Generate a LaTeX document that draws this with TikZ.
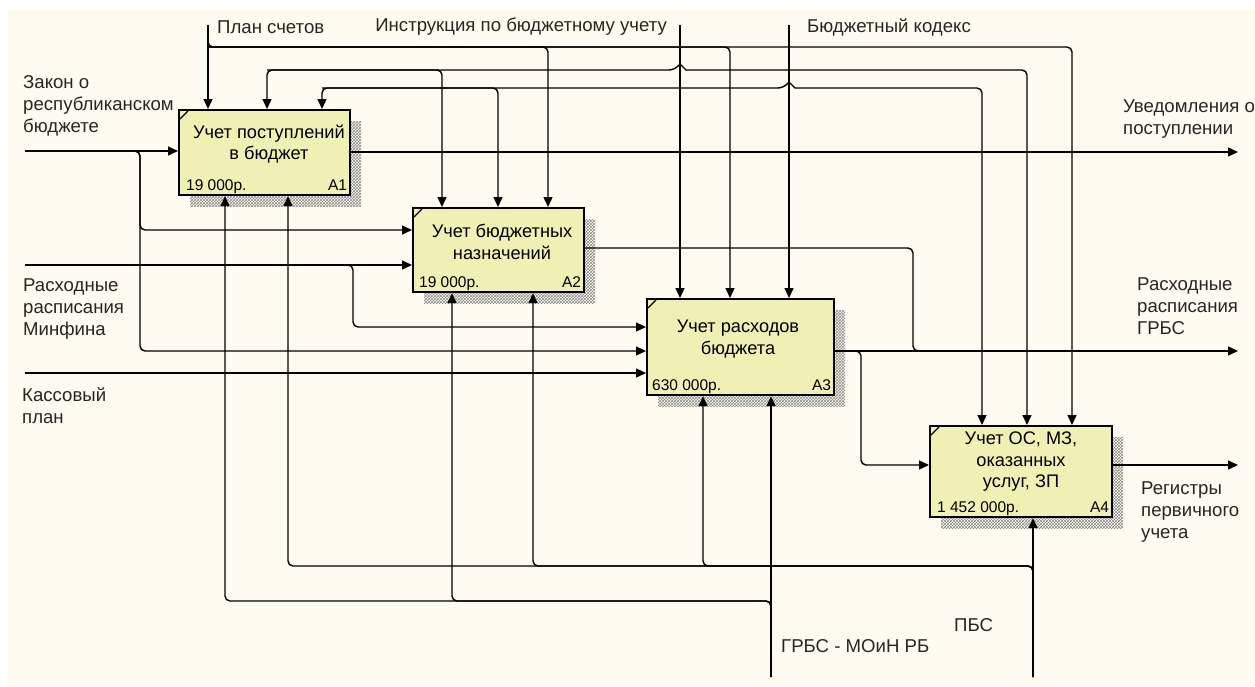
\documentclass[tikz,border=0pt]{standalone}
\usepackage{fontspec}
\setmainfont{Liberation Sans}
\usetikzlibrary{arrows.meta,calc,patterns}
\definecolor{bgcream}{RGB}{255,251,240}
\definecolor{boxfill}{RGB}{240,240,180}
\definecolor{shade}{RGB}{140,140,140}
\tikzset{
  func/.style ={rectangle, draw=black, line width=2.2pt, fill=boxfill, inner sep=0pt, anchor=north west},
  shadow/.style={pattern=crosshatch, pattern color=shade},
  ttl/.style  ={align=center, inner sep=0pt, font=\fontsize{18.2}{21.5}\selectfont},
  cost/.style ={inner sep=0pt, font=\fontsize{15.5}{17}\selectfont},
  lbl/.style  ={align=left, anchor=west, inner sep=0pt, text=black!85,
                font=\fontsize{18.6}{21.8}\selectfont},
  ln/.style   ={line width=1.4pt, rounded corners=5pt},
  ar/.style   ={ln, -{Triangle[length=10pt,width=9pt]}},
  ar2/.style  ={ln, {Triangle[length=10pt,width=9pt]}-{Triangle[length=10pt,width=9pt]}}
}

\begin{document}
\begin{tikzpicture}[x=1pt,y=-1pt]
\useasboundingbox (0,0) rectangle (1255,686);
\fill[bgcream] (8,9) rectangle (1255,686);

% function boxes with shadows
\foreach \n/\x/\y/\w/\h in {a1/178/109/171/85, a2/412/207/171/84,
                            a3/646/298/187/96, a4/929/425/182/91}{
  \fill[shadow] (\x+12,\y+12) rectangle ++(\w,\h);
  \node[func, minimum width=\w pt, minimum height=\h pt] (\n) at (\x,\y) {};
  \draw[line width=1.2pt] ($(\n.north west)+(2,10)$) -- ($(\n.north west)+(10,2)$);
}
\node[ttl] (a1t) at (269,144) {Учет поступлений\\в бюджет};
\node[ttl] (a2t) at (502,242) {Учет бюджетных\\назначений};
\node[ttl] (a3t) at (738,339) {Учет расходов\\бюджета};
\node[ttl] (a4t) at (1021,462) {Учет ОС, МЗ,\\оказанных\\услуг, ЗП};
\node[cost, anchor=base west] (a1c) at ($(a1.south west)+(8,-6)$) {19 000р.};
\node[cost, anchor=base west] (a2c) at ($(a2.south west)+(7,-6)$) {19 000р.};
\node[cost, anchor=base west] (a3c) at ($(a3.south west)+(6,-6)$) {630 000р.};
\node[cost, anchor=base west] (a4c) at ($(a4.south west)+(8,-6)$) {1 452 000р.};
\foreach \n/\t in {a1/A1, a2/A2, a3/A3, a4/A4}{
  \node[cost, anchor=base east] (\n id) at ($(\n.south east)+(-4,-6)$) {\t};
}

% free ends
\coordinate (c1) at (208,25);
\coordinate (c2) at (680,25);
\coordinate (c3) at (789,25);
\coordinate (i1) at (25,151);
\coordinate (i2) at (25,265);
\coordinate (i3) at (25,373);
\coordinate (o1) at (1238,152);
\coordinate (o2) at (1238,351);
\coordinate (o3) at (1238,465);
\coordinate (m1) at (771,677);
\coordinate (m2) at (1033,677);
% bus points
\coordinate (bus1) at (208,47);
\coordinate (bus2) at (267,70);
\coordinate (bus3) at (322,88);
\coordinate (j1) at (140,151);
\coordinate (j2) at (353,265);
\coordinate (j3) at (913,351);
\coordinate (j4) at (861,351);
\coordinate (j5) at (771,601);
\coordinate (j6) at (1033,566);

% labels
\node[lbl] (lplan) at (217,27) {План счетов};
\node[lbl, anchor=east] (linstr) at (667,27) {Инструкция по бюджетному учету};
\node[lbl] (lcode) at (807,27) {Бюджетный кодекс};
\node[lbl] (lzakon) at (23,106) {Закон о\\республиканском\\бюджете};
\node[lbl] (lminfin) at (23,309) {Расходные\\расписания\\Минфина};
\node[lbl] (lkass) at (22,406) {Кассовый\\план};
\node[lbl] (luved) at (1123,119) {Уведомления о\\поступлении};
\node[lbl] (lgrbs) at (1137,306) {Расходные\\расписания\\ГРБС};
\node[lbl] (lreg) at (1141,512) {Регистры\\первичного\\учета};
\node[lbl] (lmoin) at (781,646) {ГРБС - МОиН РБ};
\node[lbl] (lpbs) at (954,625) {ПБС};

% controls
\draw[ar] (c1) -- (c1 |- a1.north);
\draw[ar] (c1) -- (bus1) -| ($(a4.north west)+(143,0)$);
\draw[ar] (bus1) -| ($(a2.north west)+(136,0)$);
\draw[ar] (bus1) -| ($(a3.north west)+(84,0)$);
\draw[ar2] ($(a1.north west)+(89,0)$) |- ($(c2 |- bus2)+(-6,0)$) [sharp corners]
  -- ++(6,-6) -- ++(6,6) [rounded corners=5pt] -| ($(a4.north west)+(98,0)$);
\draw[ar] (bus2) -| ($(a2.north west)+(30,0)$);
\draw[ar2] ($(a1.north west)+(144,0)$) |- ($(c3 |- bus3)+(-6,0)$) [sharp corners]
  -- ++(6,-6) -- ++(6,6) [rounded corners=5pt] -| ($(a4.north west)+(53,0)$);
\draw[ar] (bus3) -| ($(a2.north west)+(86,0)$);
\draw[ar] (c2) -- (c2 |- a3.north);
\draw[ar] (c3) -- (c3 |- a3.north);

% inputs
\draw[ar] (i1) -- (i1 -| a1.west);
\draw[ar] (i1) -- (j1) |- ($(a2.north west)+(0,23)$);
\draw[ar] (i1) -- (j1) |- ($(a3.north west)+(0,53)$);
\draw[ar] (i2) -- (i2 -| a2.west);
\draw[ar] (i2) -- (j2) |- ($(a3.north west)+(0,29)$);
\draw[ar] (i3) -- (i3 -| a3.west);

% outputs
\draw[ar] (o1 -| a1.east) -- (o1);
\draw[ln] ($(a2.north east)+(0,41)$) -| (j3) -- ++(20,0);
\draw[ar] (o2 -| a3.east) -- (o2);
\draw[ar] (o2 -| a3.east) -- (j4) |- ($(a4.north west)+(0,40)$);
\draw[ar] (o3 -| a4.east) -- (o3);

% mechanisms
\draw[ar] (m1) -- (m1 |- a3.south);
\draw[ar] (m1) -- (j5) -| ($(a1.south west)+(47,0)$);
\draw[ar] (m1) -- (j5) -| ($(a2.south west)+(40,0)$);
\draw[ar] (m2) -- (m2 |- a4.south);
\foreach \n/\d in {a1/110, a2/121, a3/57}{
  \draw[ar] (m2) -- (j6) -| ($(\n.south west)+(\d,0)$);
}
\end{tikzpicture}
\end{document}
